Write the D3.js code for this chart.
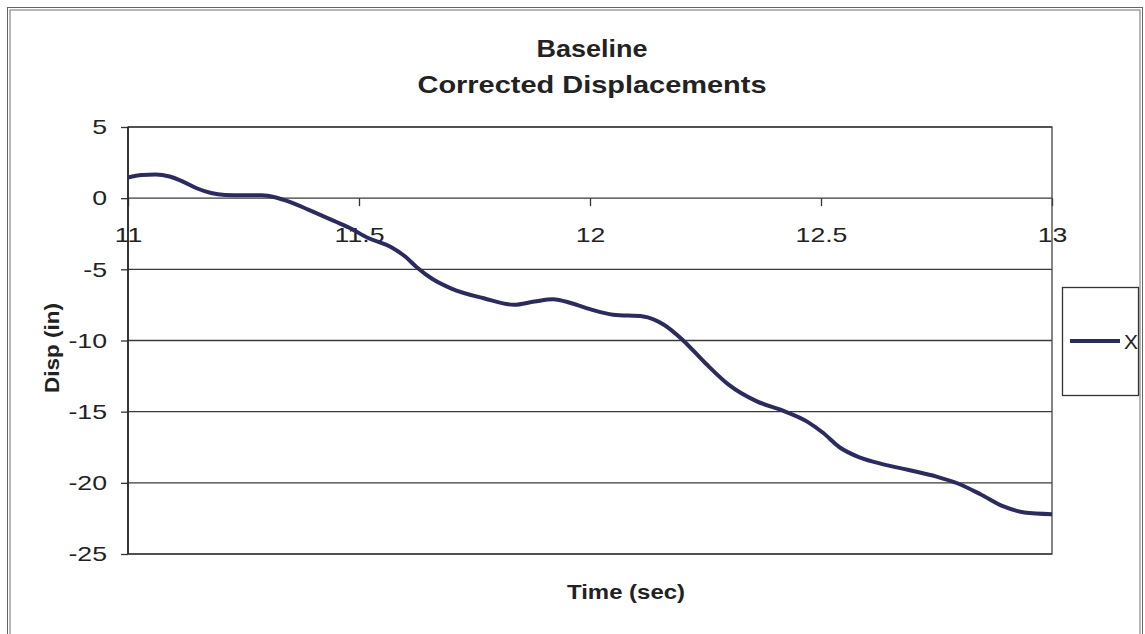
<!DOCTYPE html>
<html>
<head>
<meta charset="utf-8">
<script src="https://cdn.jsdelivr.net/npm/d3@7"></script>
<style>
  body { margin: 0; background: #fff; }
  text { font-family: Arial, "Liberation Sans", sans-serif; fill: #222; }
</style>
</head>
<body>
<div id="chart"></div>
<script>
// Baseline corrected displacement vs time
const times = [11.00, 11.03, 11.06, 11.09, 11.12, 11.15, 11.18, 11.21, 11.25, 11.29,
  11.32, 11.35, 11.39, 11.45, 11.48, 11.52, 11.57, 11.60, 11.625, 11.66,
  11.70, 11.77, 11.835, 11.88, 11.92, 11.96, 12.00, 12.05, 12.115, 12.16,
  12.20, 12.25, 12.30, 12.36, 12.42, 12.47, 12.505, 12.54, 12.585, 12.635,
  12.69, 12.75, 12.795, 12.845, 12.895, 12.94, 13.00];
const dispX = [1.45, 1.62, 1.66, 1.52, 1.15, 0.68, 0.36, 0.23, 0.2, 0.2,
  0.05, -0.26, -0.8, -1.66, -2.1, -2.8, -3.45, -4.1, -4.85, -5.7,
  -6.35, -7.03, -7.49, -7.26, -7.1, -7.38, -7.8, -8.19, -8.31, -8.89,
  -9.94, -11.6, -13.1, -14.26, -14.96, -15.7, -16.5, -17.5, -18.23, -18.7,
  -19.1, -19.56, -20.03, -20.8, -21.66, -22.08, -22.2];
const xTicks = [11, 11.5, 12, 12.5, 13];
const yTicks = [5, 0, -5, -10, -15, -20, -25];
const seriesName = "X";

const W = 1145, H = 634;
const plot = { left: 128, right: 1052, top: 127, bottom: 554 };
const stretch = 1.27; // the scanned text is wider than plain Arial

const svg = d3.select("#chart").append("svg")
  .attr("width", W).attr("height", H);

// outer chart frame (double line)
svg.append("rect").attr("x", 7.5).attr("y", 7.5)
  .attr("width", 1135).attr("height", 660)
  .attr("fill", "none").attr("stroke", "#666").attr("stroke-width", 1);
svg.append("rect").attr("x", 10).attr("y", 10)
  .attr("width", 1130).attr("height", 660)
  .attr("fill", "none").attr("stroke", "#888").attr("stroke-width", 1.2);

const x = d3.scaleLinear().domain([11, 13]).range([plot.left, plot.right]);
const y = d3.scaleLinear().domain([-25, 5]).range([plot.bottom, plot.top]);

function widen(sel) {
  sel.each(function () {
    const len = this.getComputedTextLength();
    d3.select(this).attr("textLength", len * stretch).attr("lengthAdjust", "spacingAndGlyphs");
  });
}

// x axis crosses at y = 0
const xAxis = svg.append("g")
  .attr("transform", `translate(0,${y(0)})`)
  .call(d3.axisBottom(x).tickValues(xTicks).tickSize(8).tickPadding(21).tickFormat(d => String(d)));
xAxis.select(".domain").remove();
xAxis.selectAll("line").attr("stroke", "#333").attr("stroke-width", 1.3);
xAxis.selectAll("text").attr("font-size", 21).attr("fill", "#222").call(widen);

// y axis
const yAxis = svg.append("g")
  .attr("transform", `translate(${plot.left},0)`)
  .call(d3.axisLeft(y).tickValues(yTicks).tickSize(7).tickPadding(14).tickFormat(d => String(d)));
yAxis.select(".domain").remove();
yAxis.selectAll("line").attr("stroke", "#333").attr("stroke-width", 1.3);
yAxis.selectAll("text").attr("font-size", 21).attr("fill", "#222").call(widen);

// horizontal gridlines
svg.append("g").selectAll("line")
  .data(yTicks)
  .enter().append("line")
  .attr("x1", plot.left).attr("x2", plot.right)
  .attr("y1", d => y(d)).attr("y2", d => y(d))
  .attr("stroke", "#3a3a3a").attr("stroke-width", 1.3);

// plot area border
svg.append("rect")
  .attr("x", plot.left).attr("y", plot.top)
  .attr("width", plot.right - plot.left).attr("height", plot.bottom - plot.top)
  .attr("fill", "none").attr("stroke", "#444").attr("stroke-width", 1.3);
svg.append("line")
  .attr("x1", plot.left).attr("x2", plot.left)
  .attr("y1", plot.top).attr("y2", plot.bottom)
  .attr("stroke", "#222").attr("stroke-width", 1.6);

// data line
const line = d3.line()
  .x((d, i) => x(times[i]))
  .y(d => y(d))
  .curve(d3.curveMonotoneX);
svg.append("path")
  .datum(dispX)
  .attr("d", line)
  .attr("fill", "none")
  .attr("stroke", "#2b2b5e")
  .attr("stroke-width", 4)
  .attr("stroke-linejoin", "round");

// titles
svg.append("text").attr("x", 592).attr("y", 57)
  .attr("text-anchor", "middle").attr("font-size", 24).attr("font-weight", "bold")
  .attr("textLength", 111).attr("lengthAdjust", "spacingAndGlyphs")
  .text("Baseline");
svg.append("text").attr("x", 592).attr("y", 93)
  .attr("text-anchor", "middle").attr("font-size", 24).attr("font-weight", "bold")
  .attr("textLength", 349).attr("lengthAdjust", "spacingAndGlyphs")
  .text("Corrected Displacements");

svg.append("text").attr("x", 626).attr("y", 599)
  .attr("text-anchor", "middle").attr("font-size", 20).attr("font-weight", "bold")
  .attr("textLength", 118).attr("lengthAdjust", "spacingAndGlyphs")
  .text("Time (sec)");

svg.append("text")
  .attr("transform", "translate(59,348) rotate(-90)")
  .attr("text-anchor", "middle").attr("font-size", 20).attr("font-weight", "bold")
  .attr("textLength", 90).attr("lengthAdjust", "spacingAndGlyphs")
  .text("Disp (in)");

// legend
const legend = svg.append("g");
legend.append("rect").attr("x", 1062.5).attr("y", 287.5)
  .attr("width", 76).attr("height", 108)
  .attr("fill", "#fff").attr("stroke", "#333").attr("stroke-width", 1.3);
legend.append("line").attr("x1", 1070).attr("x2", 1120)
  .attr("y1", 341).attr("y2", 341)
  .attr("stroke", "#2b2b5e").attr("stroke-width", 4);
legend.append("text").attr("x", 1124).attr("y", 349)
  .attr("font-size", 21).attr("fill", "#222")
  .text(seriesName);
</script>
</body>
</html>
